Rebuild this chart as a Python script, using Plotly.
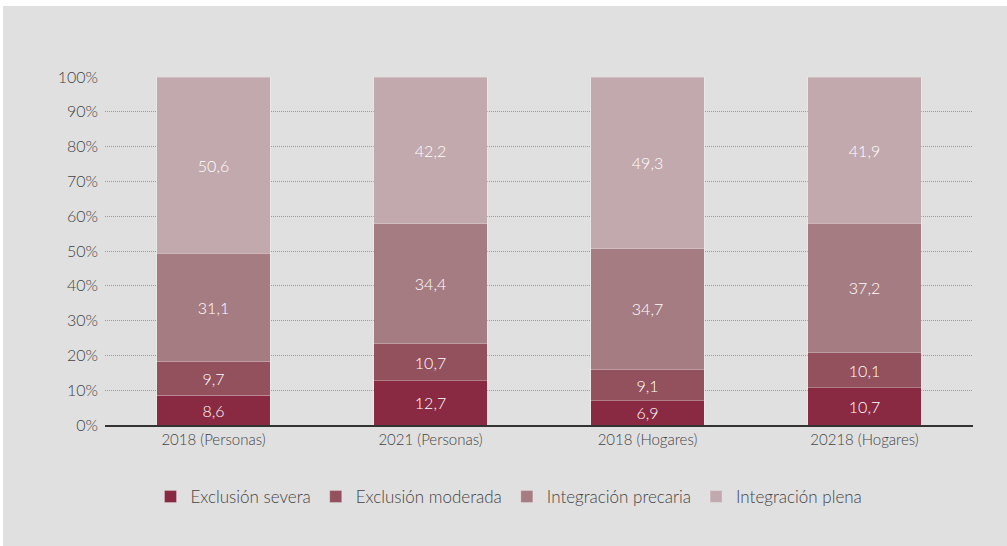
import plotly.graph_objects as go

categories = ["2018 (Personas)", "2021 (Personas)", "2018 (Hogares)", "20218 (Hogares)"]
series_names = ["Exclusión severa", "Exclusión moderada", "Integración precaria", "Integración plena"]
exclusion_severa = [8.6, 12.7, 6.9, 10.7]
exclusion_moderada = [9.7, 10.7, 9.1, 10.1]
integracion_precaria = [31.1, 34.4, 34.7, 37.2]
integracion_plena = [50.6, 42.2, 49.3, 41.9]
colors = ["#8a2942", "#93505d", "#a67c83", "#c2a9ad"]

series_values = [exclusion_severa, exclusion_moderada, integracion_precaria, integracion_plena]

FONT = "Lato"
fig = go.Figure()
for name, vals, col in zip(series_names, series_values, colors):
    fig.add_trace(go.Bar(
        name=name, x=categories, y=vals,
        marker=dict(color=col, line=dict(color="rgba(255,255,255,0.25)", width=1)),
        text=[f"{v:.1f}".replace(".", ",") for v in vals],
        textposition="inside", insidetextanchor="middle", textangle=0,
        constraintext="none",
        textfont=dict(color="white", size=16, family=FONT, weight=300),
        hoverinfo="skip",
    ))

fig.update_layout(
    width=1007, height=546,
    barmode="stack", bargap=0.475,
    paper_bgcolor="white", plot_bgcolor="rgba(0,0,0,0)",
    margin=dict(l=105, r=34, t=77, b=121),
    font=dict(family=FONT, color="#444", weight=300),
    showlegend=True,
    legend=dict(orientation="h", x=(509 - 105) / 868, xanchor="center", y=-0.207, yanchor="middle",
                traceorder="normal",
                font=dict(size=17, color="#444", family=FONT, weight=300), bgcolor="rgba(0,0,0,0)",
                itemwidth=30, tracegroupgap=0),
    shapes=[dict(type="rect", xref="paper", yref="paper", layer="below",
                 x0=-102/868, x1=1.1, y0=-0.5, y1=1 + 71/348,
                 fillcolor="#e0e0e0", line=dict(width=0))],
)
fig.update_yaxes(range=[0, 100], dtick=10, ticksuffix="%", showgrid=True,
                 gridcolor="#9a9a9a", griddash="1px,1px", gridwidth=1, zeroline=False,
                 tickfont=dict(size=16, color="#444", family=FONT, weight=300), ticklabelstandoff=6,
                 fixedrange=True)
fig.update_xaxes(showline=True, linecolor="#333", linewidth=1.5,
                 tickfont=dict(size=15, color="#444", family=FONT, weight=300), fixedrange=True)

fig.write_html("out.html", config={"displayModeBar": False},
               post_script="document.body.style.margin='0';")
